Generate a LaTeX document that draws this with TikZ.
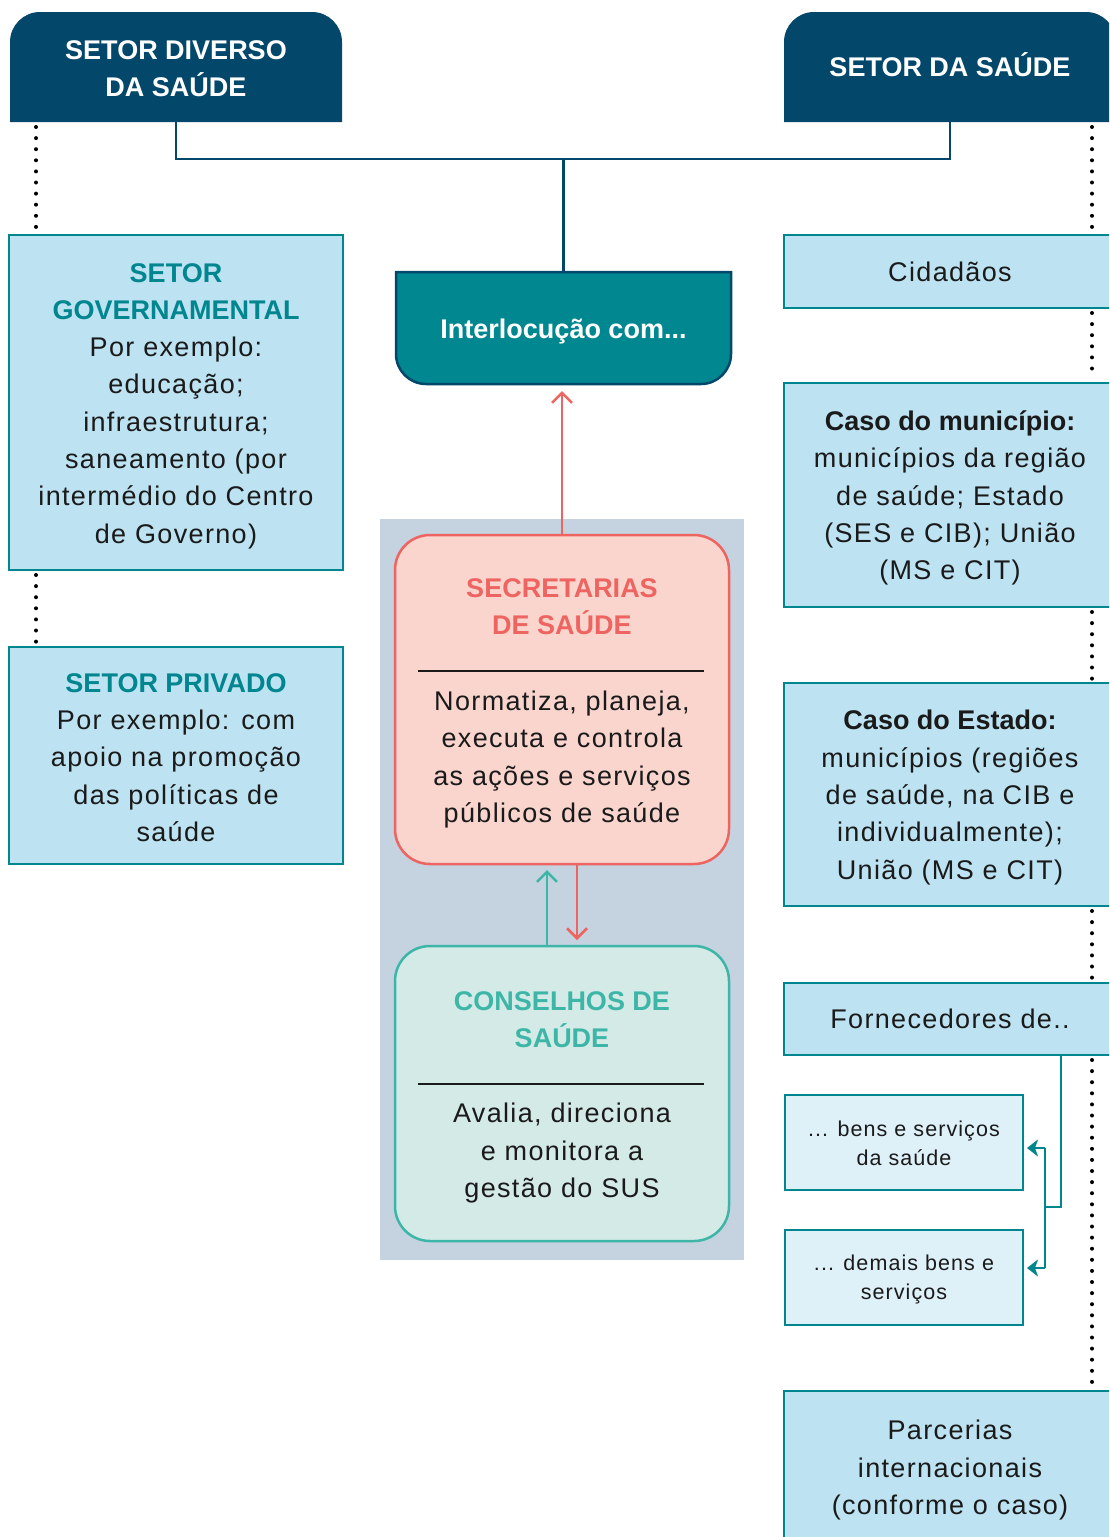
\documentclass[tikz,border=0pt]{standalone}
\usepackage{fontspec}
\setmainfont{Liberation Sans}[LetterSpace=5,BoldFeatures={LetterSpace=0}]
\usetikzlibrary{arrows.meta}
\definecolor{hdrblue}{HTML}{03476A}
\definecolor{interteal}{HTML}{00878F}
\definecolor{boxfill}{HTML}{BDE2F1}
\definecolor{boxline}{HTML}{00868F}
\definecolor{subfill}{HTML}{DEF0F8}
\definecolor{panelc}{HTML}{C5D2E0}
\definecolor{redc}{HTML}{EE6461}
\definecolor{pinkfill}{HTML}{FAD5CE}
\definecolor{conteal}{HTML}{3DB6A8}
\definecolor{confill}{HTML}{D3EAE6}
\definecolor{txt}{HTML}{1A1A1A}
\newcommand\ttlg[1]{\textbf{\textcolor{boxline}{#1}}}
\newcommand\ttlk[1]{\textbf{#1}}
\begin{document}
\begin{tikzpicture}[x=1pt,y=-1pt,
  body/.style={font=\fontsize{27}{37.3}\selectfont, text=txt, align=center},
  small/.style={font=\fontsize{21.5}{29.5}\selectfont, text=txt, align=center},
  hdrtext/.style={font=\fontsize{27}{37}\selectfont\bfseries, text=white, align=center},
  shapebox/.style={inner sep=0pt, outer sep=0pt},
  sidebox/.style={draw=boxline, fill=boxfill, line width=2.5pt, inner sep=0pt, outer sep=0pt},
  subbox/.style={draw=boxline, fill=subfill, line width=2.5pt, inner sep=0pt, outer sep=0pt},
  dots/.style={line width=4pt, dash pattern=on 0pt off 11.1pt, line cap=round, shorten <=5pt, shorten >=4pt},
  conn/.style={draw=hdrblue, line width=2.3pt},
  redarr/.style={draw=redc, line width=2.5pt, -{Straight Barb[length=10pt,width=20pt]}},
  tealarr/.style={draw=conteal, line width=2.5pt, -{Straight Barb[length=10pt,width=20pt]}},
  fornarr/.style={draw=boxline, line width=2.5pt, -{Stealth[length=11pt,width=17pt,inset=3pt]}},
]
\useasboundingbox (0,0) rectangle (1109,1537);
\begin{scope}
\clip (0,0) rectangle (1109,1537);

% coordinates for vertical guides
\coordinate (dl) at (36,0);
\coordinate (dr) at (1092,0);
\coordinate (jn) at (563.5,159);
\coordinate (ax1) at (547,0);
\coordinate (ax2) at (577,0);
\coordinate (fx) at (1061,0);
\coordinate (jy) at (0,1207);
\coordinate (a1) at (1045,1148);
\coordinate (a2) at (1045,1268);

% headers
\node[shapebox, minimum width=332pt, minimum height=110pt] (h1) at (176,67) {};
\node[shapebox, minimum width=332pt, minimum height=110pt] (h2) at (950,67) {};
\fill[hdrblue] (h1.south west) -- ([yshift=-30pt]h1.north west) arc[start angle=180,end angle=90,radius=30pt] -- ([xshift=-30pt]h1.north east) arc[start angle=90,end angle=0,radius=30pt] -- (h1.south east) -- cycle;
\fill[hdrblue] (h2.south west) -- ([yshift=-30pt]h2.north west) arc[start angle=180,end angle=90,radius=30pt] -- ([xshift=-30pt]h2.north east) arc[start angle=90,end angle=0,radius=30pt] -- (h2.south east) -- cycle;
\node[hdrtext, yshift=-2pt] (h1t) at (h1.center) {SETOR DIVERSO\\DA SAÚDE};
\node[hdrtext, yshift=2pt] (h2t) at (h2.center) {SETOR DA SAÚDE};

% interlocucao
\node[shapebox, minimum width=335pt, minimum height=112pt] (inter) at (563.5,328) {};
\filldraw[fill=interteal, draw=hdrblue, line width=2.5pt] (inter.north west) -- (inter.north east) -- ([yshift=30pt]inter.south east) arc[start angle=0,end angle=-90,radius=30pt] -- ([xshift=30pt]inter.south west) arc[start angle=270,end angle=180,radius=30pt] -- cycle;
\node[hdrtext, yshift=-3.5pt] (intert) at (inter.center) {Interlocução com...};

% header connectors
\draw[conn] (h1.south) -- (h1.south |- jn) -- (h2.south |- jn) -- (h2.south);
\draw[conn] (jn) -- (inter.north);

% central panel
\node[shapebox, fill=panelc, minimum width=364pt, minimum height=741pt] (panel) at (562,889.5) {};

% secretarias
\node[shapebox, draw=redc, fill=pinkfill, line width=2.5pt, rounded corners=35pt, minimum width=334pt, minimum height=329pt] (sec) at (562,699.5) {};
\node[font=\fontsize{27}{37}\selectfont\bfseries, text=redc, align=center] (sect) at (562,606.5) {SECRETARIAS\\DE SAÚDE};
\draw[line width=1.2pt, txt] (418,671) -- (704,671);
\node[body] (secb) at (562,759.5) {Normatiza, planeja,\\executa e controla\\as ações e serviços\\públicos de saúde};

% conselhos
\node[shapebox, draw=conteal, fill=confill, line width=2.5pt, rounded corners=35pt, minimum width=334pt, minimum height=295pt] (con) at (562,1093.5) {};
\node[font=\fontsize{27}{37}\selectfont\bfseries, text=conteal, align=center] (cont) at (562,1019.5) {CONSELHOS DE\\SAÚDE};
\draw[line width=1.2pt, txt] (418,1084) -- (704,1084);
\node[font=\fontsize{27}{37.5}\selectfont, text=txt, align=center] (conb) at (562,1153.5) {Avalia, direciona\\e monitora a\\gestão do SUS};

% arrows in the middle
\draw[redarr, shorten >=7pt] (sec.north) -- (sec.north |- inter.south);
\draw[tealarr, shorten >=6pt] (con.north -| ax1) -- (sec.south -| ax1);
\draw[redarr, shorten >=6pt] (sec.south -| ax2) -- (con.north -| ax2);

% left column
\node[sidebox, minimum width=334pt, minimum height=335pt] (gov) at (176,402.5) {};
\node[body, yshift=-3.5pt] (govt) at (gov.center) {\ttlg{SETOR}\\\ttlg{GOVERNAMENTAL}\\Por exemplo:\\educação;\\infraestrutura;\\saneamento (por\\intermédio do Centro\\de Governo)};
\node[sidebox, minimum width=334pt, minimum height=217pt] (priv) at (176,755.5) {};
\node[body, yshift=-2pt] (privt) at (priv.center) {\ttlg{SETOR PRIVADO}\\Por exemplo: com\\apoio na promoção\\das políticas de\\saúde};

% right column
\node[sidebox, minimum width=332pt, minimum height=73pt] (cid) at (950,271.5) {};
\node[body] (cidt) at (cid.center) {Cidadãos};
\node[sidebox, minimum width=332pt, minimum height=224pt] (mun) at (950,495) {};
\node[body, yshift=-3pt] (munt) at (mun.center) {\ttlk{Caso do município:}\\municípios da região\\de saúde; Estado\\(SES e CIB); União\\(MS e CIT)};
\node[sidebox, minimum width=332pt, minimum height=223pt] (est) at (950,794.5) {};
\node[body, yshift=-3pt] (estt) at (est.center) {\ttlk{Caso do Estado:}\\municípios (regiões\\de saúde, na CIB e\\individualmente);\\União (MS e CIT)};
\node[sidebox, minimum width=332pt, minimum height=72pt] (forn) at (950,1019) {};
\node[body] (fornt) at (forn.center) {Fornecedores de..};
\node[subbox, minimum width=238pt, minimum height=95pt] (bens) at (904,1142.5) {};
\node[small, yshift=-1pt] (benst) at (bens.center) {... bens e serviços\\da saúde};
\node[subbox, minimum width=238pt, minimum height=95pt] (dem) at (904,1277.5) {};
\node[small, yshift=-2pt] (demt) at (dem.center) {... demais bens e\\serviços};
\node[sidebox, minimum width=332pt, minimum height=154pt] (parc) at (950,1468) {};
\node[body, yshift=-2pt] (parct) at (parc.center) {Parcerias\\internacionais\\(conforme o caso)};

% fornecedores connectors
\draw[draw=boxline, line width=2.5pt] (forn.south -| fx) -- (fx |- jy) -- (a1 |- jy);
\draw[draw=boxline, line width=2.5pt] (a1) -- (a2);
\draw[fornarr, shorten >=4pt] (a1) -- (a1 -| bens.east);
\draw[fornarr, shorten >=4pt] (a2) -- (a2 -| dem.east);

% dotted lines left
\draw[dots] (h1.south -| dl) -- (gov.north -| dl);
\draw[dots] (gov.south -| dl) -- (priv.north -| dl);
% dotted lines right
\draw[dots] (h2.south -| dr) -- (cid.north -| dr);
\draw[dots] (cid.south -| dr) -- (mun.north -| dr);
\draw[dots] (mun.south -| dr) -- (est.north -| dr);
\draw[dots] (est.south -| dr) -- (forn.north -| dr);
\draw[dots] (forn.south -| dr) -- (parc.north -| dr);
\end{scope}
\end{tikzpicture}
\end{document}
